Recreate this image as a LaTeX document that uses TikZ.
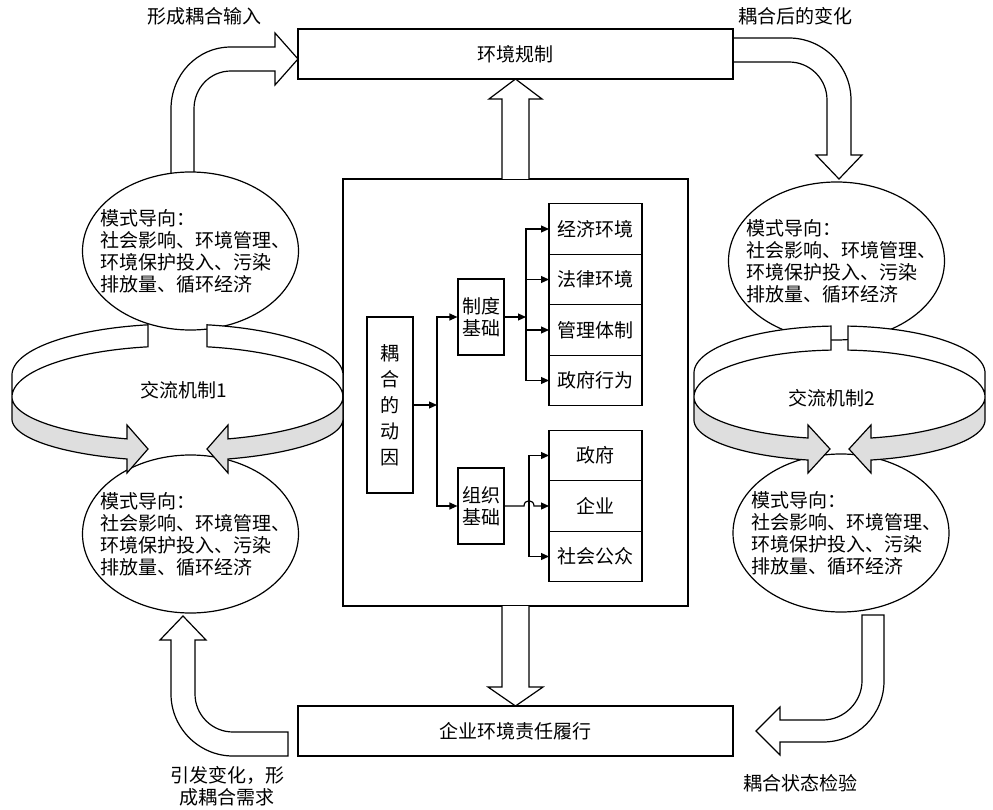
\documentclass[tikz,border=0pt]{standalone}
\usepackage{fontspec}
\setmainfont{Noto Sans CJK SC}
\usetikzlibrary{shapes.geometric, positioning, arrows.meta}
\definecolor{bandgray}{RGB}{222,222,222}
\tikzset{
>={Triangle[length=8pt,width=7pt]}, % solid heads for the links inside the frame
every node/.style={font=\fontsize{19}{22}\selectfont}, % one text size for the whole figure
bigbox/.style={draw, fill=white, minimum width=435pt, minimum height=50pt},
framebox/.style={draw, fill=white, minimum width=345pt, minimum height=427pt},
tallbox/.style={draw, minimum width=46pt, minimum height=176pt, align=center, font=\fontsize{19}{26}\selectfont},
basebox/.style={draw, minimum width=46pt, minimum height=76pt, inner sep=0pt, align=center},
cellbox/.style={draw, minimum width=93pt, minimum height=50.5pt, outer sep=0pt},
modeell/.style={ellipse, draw, fill=white, minimum width=216pt, minimum height=158pt, inner sep=0pt},
modetext/.style={align=left, inner sep=0pt, xshift=5pt},
fatarrow/.style={draw, fill=white, line join=miter}, % hollow block arrows
backband/.style={draw, fill=white},
frontband/.style={draw, fill=bandgray, line join=miter},
tag/.style={align=center, inner sep=0pt},
}
\begin{document}
\begin{tikzpicture}[x=1pt, y=-1pt, line width=1.2pt]
\useasboundingbox (0,0) rectangle (993,810);

\draw[fatarrow] (171,190) -- (171,109) .. controls (171,75) and (197,47) .. (231,47) -- (275,47) -- (275,33) -- (298,59) -- (275,85) -- (275,71) -- (231,71) .. controls (210,71) and (194,88) .. (194,109) -- (194,190);
\draw[fatarrow] (733,38) -- (789,38) .. controls (823,38) and (851,66) .. (851,100) -- (851,155) -- (862,155) -- (839,179) -- (816,155) -- (827,155) -- (827,100) .. controls (827,79) and (810,62) .. (789,62) -- (733,62);
\draw[fatarrow] (862,615) -- (884,615) -- (884,681) .. controls (884,715) and (857,742) .. (823,742) -- (780,742) -- (780,755) -- (756,731) -- (780,707) -- (780,720) -- (823,720) .. controls (844,720) and (862,702) .. (862,681) -- cycle;
\draw[fatarrow] (288,732) -- (288,756) -- (233,756) .. controls (199,756) and (171,728) .. (171,694) -- (171,640) -- (160,640) -- (183,616) -- (206,640) -- (195,640) -- (195,694) .. controls (195,715) and (212,732) .. (233,732) -- cycle;

\node[bigbox] (envreg) at (515.5,54) {环境规制};
\node[bigbox] (duty) at (515.5,731) {企业环境责任履行};
\node[framebox] (frame) at (515.5,392.5) {};

\draw[fatarrow] (502,179) -- (502,99) -- (489,99) -- (515.5,79) -- (542,99) -- (529,99) -- (529,179);
\draw[fatarrow] (502,606) -- (502,687) -- (488,687) -- (515.5,706) -- (543,687) -- (529,687) -- (529,606);

\node[modeell] (modeA) at (190.5,251) {};
\node[modeell] (modeB) at (190.5,534) {};
\node[modeell] (modeC) at (836.5,261) {};
\node[modeell] (modeD) at (841,533) {};

\draw[backband] plot[domain=259.7:180, samples=40] ({177.5+165.5*cos(\x)},{375+51*sin(\x)}) -- plot[domain=180:259.7, samples=40] ({177.5+165.5*cos(\x)},{397+51*sin(\x)}) -- cycle;
\draw[backband] plot[domain=280.3:360, samples=40] ({177.5+165.5*cos(\x)},{375+51*sin(\x)}) -- plot[domain=360:280.3, samples=40] ({177.5+165.5*cos(\x)},{397+51*sin(\x)}) -- cycle;
\draw[frontband] plot[domain=180:107.8, samples=40] ({177.5+165.5*cos(\x)},{397+44*sin(\x)}) -- (127,425) -- (148,449) -- (127,473) -- plot[domain=107.8:180, samples=40] ({177.5+165.5*cos(\x)},{419+42*sin(\x)}) -- cycle;
\draw[frontband] plot[domain=0:72.2, samples=40] ({177.5+165.5*cos(\x)},{397+44*sin(\x)}) -- (228,425) -- (207,449) -- (228,473) -- plot[domain=72.2:0, samples=40] ({177.5+165.5*cos(\x)},{419+42*sin(\x)}) -- cycle;

\draw[backband] plot[domain=266.65:180, samples=40] ({839.5+145.5*cos(\x)},{373+47*sin(\x)}) -- plot[domain=180:266.65, samples=40] ({839.5+145.5*cos(\x)},{397+47*sin(\x)}) -- cycle;
\draw[backband] plot[domain=273.35:360, samples=40] ({839.5+145.5*cos(\x)},{373+47*sin(\x)}) -- plot[domain=360:273.35, samples=40] ({839.5+145.5*cos(\x)},{397+47*sin(\x)}) -- cycle;
\draw[frontband] plot[domain=180:102.5, samples=40] ({839.5+145.5*cos(\x)},{397+42*sin(\x)}) -- (808,425) -- (830,449) -- (808,473) -- plot[domain=102.5:180, samples=40] ({839.5+145.5*cos(\x)},{420+41*sin(\x)}) -- cycle;
\draw[frontband] plot[domain=0:77.5, samples=40] ({839.5+145.5*cos(\x)},{397+42*sin(\x)}) -- (871,425) -- (849,449) -- (871,473) -- plot[domain=77.5:0, samples=40] ({839.5+145.5*cos(\x)},{420+41*sin(\x)}) -- cycle;

\node[modetext] (modeAtext) at (modeA) {模式导向：\\社会影响、环境管理、\\环境保护投入、污染\\排放量、循环经济};
\node[modetext] (modeBtext) at (modeB) {模式导向：\\社会影响、环境管理、\\环境保护投入、污染\\排放量、循环经济};
\node[modetext] (modeCtext) at (modeC) {模式导向：\\社会影响、环境管理、\\环境保护投入、污染\\排放量、循环经济};
\node[modetext] (modeDtext) at (modeD) {模式导向：\\社会影响、环境管理、\\环境保护投入、污染\\排放量、循环经济};

\node (ringA) at (184,390) {交流机制1};
\node (ringB) at (832,398) {交流机制2};
\node[tag] (tagin) at (204,16) {形成耦合输入};
\node[tag] (tagafter) at (795,16) {耦合后的变化};
\node[tag] (tagcheck) at (800,783) {耦合状态检验};
\node[tag] (tagneed) at (227,786) {引发变化，形\\成耦合需求};

\node[tallbox] (dongyin) at (390,405) {耦\\合\\的\\动\\因};
\node[basebox] (zhidu) at (481,317) {制度\\基础};
\node[basebox] (zuzhi) at (481,506) {组织\\基础};
\node[cellbox] (jjhj) at (595.5,229) {经济环境};
\node[cellbox, below=0pt of jjhj] (flhj) {法律环境};
\node[cellbox, below=0pt of flhj] (gltz) {管理体制};
\node[cellbox, below=0pt of gltz] (zfxw) {政府行为};
\node[cellbox] (zf) at (595.5,455.5) {政府};
\node[cellbox, below=0pt of zf] (qy) {企业};
\node[cellbox, below=0pt of qy] (shgz) {社会公众};
\coordinate (fork) at (437,405);
\coordinate (forkz) at (526,317);
\coordinate (forko) at (529,506);

\draw[->] (dongyin) -- (fork);
\draw[->] (fork) |- (zhidu);
\draw[->] (fork) |- (zuzhi);
\draw[->] (zhidu) -- (forkz);
\foreach \cell in {jjhj, flhj, gltz, zfxw}
  \draw[->] (forkz) |- (\cell);
\foreach \cell in {zf, shgz}
  \draw[->] (forko) |- (\cell);
\draw[->] (zuzhi) -- (524,506) .. controls (524,499) and (534,499) .. (534,506) -- (qy);
\end{tikzpicture}
\end{document}
